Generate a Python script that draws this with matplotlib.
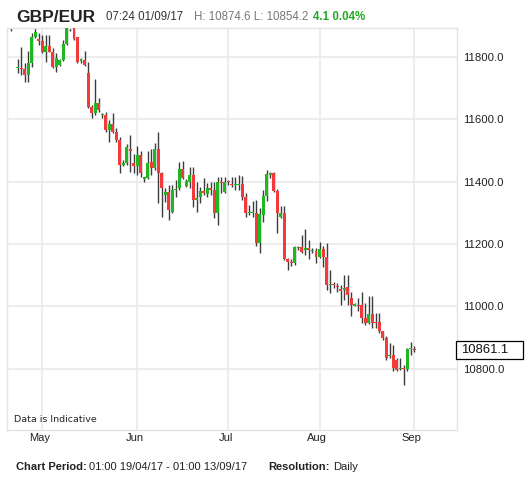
import numpy as np
import pandas as pd
import matplotlib
matplotlib.use("Agg")
import matplotlib.pyplot as plt
import matplotlib.transforms as mtransforms
from matplotlib.patches import Rectangle

plt.rcParams['font.family'] = ['Liberation Sans', 'DejaVu Sans']

# daily candles, Sunday to Friday sessions
days = pd.date_range('2017-04-19', '2017-09-01')
days = days[days.dayofweek != 5]

opens = [11960, 11945, 11930, 11764, 11766, 11761, 11742, 11780, 11865, 11858,
         11852, 11817, 11835, 11817, 11769, 11774, 11790, 11842, 11895, 11898,
         11863, 11788, 11790, 11748, 11641, 11620, 11651, 11613, 11614, 11566,
         11585, 11561, 11534, 11454, 11459, 11505, 11461, 11451, 11486, 11408,
         11411, 11464, 11443, 11504, 11427, 11358, 11368, 11304, 11374, 11379,
         11440, 11387, 11400, 11422, 11342, 11350, 11371, 11361, 11379, 11374,
         11301, 11398, 11368, 11400, 11393, 11390, 11390, 11393, 11352, 11301,
         11301, 11299, 11205, 11294, 11354, 11422, 11427, 11371, 11286, 11299,
         11151, 11144, 11139, 11187, 11190, 11181, 11187, 11177, 11179, 11158,
         11184, 11158, 11068, 11072, 11065, 11056, 11053, 11064, 11027, 11003,
         11005, 11005, 10962, 10946, 10976, 10951, 10951, 10920, 10898, 10840,
         10845, 10829, 10799, 10802, 10799, 10863, 10862]
highs = [11985, 11975, 11960, 11793, 11831, 11780, 11820, 11876, 11895, 11878,
         11870, 11870, 11870, 11828, 11812, 11795, 11854, 11905, 11920, 11910,
         11865, 11796, 11820, 11785, 11646, 11728, 11667, 11620, 11625, 11598,
         11621, 11571, 11545, 11470, 11521, 11550, 11489, 11515, 11500, 11416,
         11500, 11504, 11523, 11561, 11432, 11379, 11390, 11390, 11406, 11464,
         11467, 11408, 11448, 11448, 11400, 11384, 11411, 11395, 11400, 11400,
         11416, 11416, 11416, 11406, 11414, 11414, 11422, 11418, 11363, 11325,
         11339, 11342, 11315, 11374, 11438, 11432, 11432, 11376, 11322, 11322,
         11154, 11151, 11194, 11195, 11229, 11248, 11213, 11187, 11187, 11208,
         11194, 11205, 11117, 11077, 11075, 11069, 11101, 11101, 11048, 11011,
         11027, 11048, 11011, 11034, 11034, 10978, 10978, 10923, 10904, 10882,
         10877, 10834, 10834, 10813, 10866, 10887, 10874.6]
lows = [11925, 11884, 11900, 11748, 11742, 11721, 11721, 11769, 11860, 11838,
        11812, 11785, 11815, 11764, 11753, 11770, 11788, 11838, 11882, 11855,
        11780, 11780, 11772, 11636, 11604, 11614, 11625, 11604, 11561, 11529,
        11555, 11529, 11427, 11451, 11454, 11432, 11427, 11422, 11416, 11400,
        11408, 11422, 11438, 11331, 11288, 11336, 11277, 11299, 11352, 11374,
        11408, 11384, 11379, 11320, 11304, 11331, 11358, 11352, 11358, 11283,
        11262, 11363, 11365, 11390, 11384, 11374, 11374, 11342, 11286, 11294,
        11288, 11194, 11173, 11272, 11339, 11411, 11368, 11237, 11283, 11149,
        11117, 11130, 11133, 11180, 11171, 11165, 11151, 11171, 11141, 11154,
        11126, 11053, 11043, 11060, 11048, 11005, 11021, 11005, 10968, 11000,
        10984, 10946, 10941, 10944, 10930, 10930, 10914, 10893, 10829, 10834,
        10792, 10792, 10797, 10749, 10792, 10845, 10854.2]
closes = [11945, 11930, 11915, 11769, 11761, 11742, 11780, 11865, 11879, 11852,
          11817, 11835, 11817, 11769, 11796, 11790, 11842, 11895, 11900, 11858,
          11785, 11792, 11774, 11641, 11620, 11651, 11630, 11617, 11566, 11585,
          11561, 11534, 11454, 11461, 11512, 11500, 11451, 11486, 11427, 11414,
          11461, 11443, 11504, 11427, 11379, 11368, 11310, 11374, 11378, 11440,
          11411, 11404, 11422, 11342, 11347, 11371, 11363, 11379, 11374, 11301,
          11398, 11395, 11400, 11398, 11389, 11392, 11393, 11352, 11301, 11304,
          11304, 11205, 11297, 11354, 11425, 11427, 11371, 11299, 11299, 11151,
          11144, 11139, 11190, 11190, 11176, 11187, 11181, 11180, 11158, 11184,
          11158, 11069, 11071, 11069, 11062, 11051, 11059, 11037, 11005, 11006,
          11000, 10962, 10946, 10976, 10946, 10946, 10920, 10898, 10834, 10845,
          10802, 10797, 10802, 10799, 10863, 10866, 10861.1]

last_price = 10861.1
y_ticks = [10800, 11000, 11200, 11400, 11600, 11800]

green = '#20b820'
red = '#f23a3a'

fig = plt.figure(figsize=(5.29, 4.78), dpi=100)
ax = fig.add_axes([7 / 529, 1 - 430 / 478, 450 / 529, 402 / 478])

x = np.arange(len(days))
o = np.array(opens, dtype=float)
h = np.array(highs, dtype=float)
l = np.array(lows, dtype=float)
c = np.array(closes, dtype=float)
up = c >= o
colors = np.where(up, green, red)

ax.vlines(x, l, h, color='#3c3c3c', lw=1.0, zorder=2)
bottoms = np.minimum(o, c)
heights = np.maximum(np.abs(c - o), 3.5)
ax.bar(x, heights, bottom=bottoms, width=0.85, color=colors, lw=0, zorder=3)

# month ticks on the first session of each month
month_pos = [i for i in range(1, len(days)) if days[i].month != days[i - 1].month]
ax.set_xticks(month_pos)
ax.set_xticklabels([days[i].strftime('%b') for i in month_pos])
ax.set_xlim(-0.1, 128.2)

ax.set_ylim(10604, 11893)
ax.set_yticks(y_ticks)
ax.set_yticklabels([f'{v:.1f}' for v in y_ticks])
ax.yaxis.tick_right()
ax.tick_params(axis='y', length=0, pad=4.3, labelsize=8.2, labelcolor='#222222')
ax.tick_params(axis='x', length=0, pad=2, labelsize=8, labelcolor='#222222')
offset = mtransforms.ScaledTranslation(-2.5 / 100, 0, fig.dpi_scale_trans)
for lab in ax.get_xticklabels():
    lab.set_transform(lab.get_transform() + offset)

ax.grid(True, color='#e8e8e8', lw=1.1, zorder=0)
ax.set_axisbelow(True)
for s in ax.spines.values():
    s.set_color('#e3e3e3')
    s.set_linewidth(1.0)

# last price box
trans = mtransforms.blended_transform_factory(ax.transAxes, ax.transData)
ax.add_patch(Rectangle((0.998, last_price - 28.5), 0.149, 57, transform=trans,
                       facecolor='white', edgecolor='black', lw=0.9, clip_on=False, zorder=5))
ax.text(1.0096, last_price, f'{last_price:.1f}', transform=trans, ha='left', va='center',
        fontsize=9.4, color='#111111', zorder=6)

ax.text(0.0156, 0.025, 'Data is Indicative', transform=ax.transAxes, ha='left', va='center',
        fontsize=6.8, family='DejaVu Sans', color='#222222')

# header
def px(xp, yp):
    return xp / 529, 1 - yp / 478

fig.text(*px(16, 21.5), 'GBP/EUR', fontsize=12.5, fontweight='bold', color='#222222', va='baseline')
fig.text(*px(106, 20), '07:24 01/09/17', fontsize=8.3, color='#333333', va='baseline')
fig.text(*px(194, 20), 'H: 10874.6 L: 10854.2', fontsize=8.3, color='#777777', va='baseline')
fig.text(*px(313, 20), '4.1 0.04%', fontsize=8.3, fontweight='bold', color='#22aa22', va='baseline')

# footer
fig.text(*px(16, 470), 'Chart Period:', fontsize=8, fontweight='bold', color='#222222', va='baseline')
fig.text(*px(89, 470), '01:00 19/04/17 - 01:00 13/09/17', fontsize=8, color='#222222', va='baseline')
fig.text(*px(268, 470), 'Resolution:', fontsize=8, fontweight='bold', color='#222222', va='baseline')
fig.text(*px(333, 470), 'Daily', fontsize=8, color='#222222', va='baseline')

fig.savefig('out.png', dpi=100)
